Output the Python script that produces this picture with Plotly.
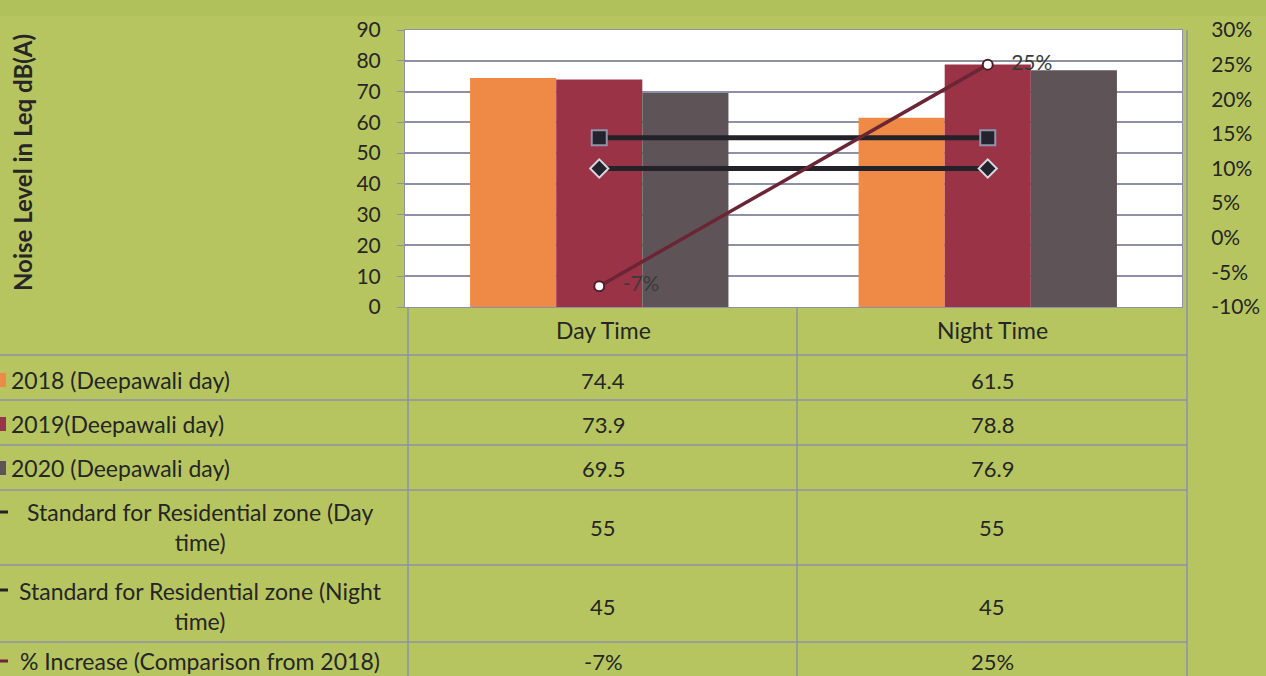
import plotly.graph_objects as go

categories = ["Day Time", "Night Time"]
noise_2018 = [74.4, 61.5]
noise_2019 = [73.9, 78.8]
noise_2020 = [69.5, 76.9]
std_day = [55, 55]
std_night = [45, 45]
pct_increase = [-7, 25]
pct_ticks = [-10, -5, 0, 5, 10, 15, 20, 25, 30]

bar_names = ["2018 (Deepawali day)", "2019(Deepawali day)", "2020 (Deepawali day)"]
line_names = ["Standard for Residential zone (Day<br>time)",
              "Standard for Residential zone (Night<br>time)",
              "% Increase (Comparison from 2018)"]

bar_colors = ["#ee8a45", "#9b3347", "#5e5458"]
line_colors = ["#222228", "#222228", "#6b2535"]

W, H = 1266, 676
L, R, T, B = 405, 1182, 30, 307
FONT = "Lato, Open Sans, sans-serif"
TXT = "#262626"


def px(x):
    return (x - L) / (R - L)


def py(y):
    return (B - y) / (B - T)


def note(text, x, y, size=23, xanchor="center", **kw):
    return dict(text=text, xref="paper", yref="paper", x=px(x), y=py(y),
                xanchor=xanchor, yanchor="middle", showarrow=False,
                font=dict(size=size, color=TXT, family=FONT), **kw)


fig = go.Figure()

for name, vals, col in zip(bar_names, [noise_2018, noise_2019, noise_2020], bar_colors):
    fig.add_trace(go.Bar(x=categories, y=vals, name=name, marker_color=col,
                         marker_line_width=0, showlegend=False))

fig.add_trace(go.Scatter(x=categories, y=std_day, mode="lines+markers",
                         line=dict(color=line_colors[0], width=5),
                         marker=dict(symbol="square", size=15, color="#23232d",
                                     line=dict(color="#8e94aa", width=2)),
                         showlegend=False))
fig.add_trace(go.Scatter(x=categories, y=std_night, mode="lines+markers",
                         line=dict(color=line_colors[1], width=5),
                         marker=dict(symbol="diamond", size=14, color="#23232d",
                                     line=dict(color="#d6d8e0", width=2)),
                         showlegend=False))
fig.add_trace(go.Scatter(x=categories, y=pct_increase, yaxis="y2",
                         mode="lines+markers+text",
                         text=[f"   {v}%" for v in pct_increase],
                         textposition="middle right",
                         textfont=dict(size=21, color="#3a3a3a", family=FONT),
                         line=dict(color=line_colors[2], width=3.5),
                         marker=dict(symbol="circle", size=10, color="white",
                                     line=dict(color="#4a1f28", width=2)),
                         showlegend=False))

shapes = [dict(type="rect", xref="paper", yref="paper",
               x0=px(0), x1=px(W), y0=py(0), y1=py(16),
               fillcolor="#a9bb55", opacity=0.5, line_width=0, layer="below")]

grid_c = "#8c91a6"
# table horizontal lines
for y in [355, 400, 445, 490, 565, 642]:
    shapes.append(dict(type="line", xref="paper", yref="paper",
                       x0=px(0), x1=px(1187), y0=py(y), y1=py(y),
                       line=dict(color=grid_c, width=1.5)))
# table vertical lines
for x in [408, 797]:
    shapes.append(dict(type="line", xref="paper", yref="paper",
                       x0=px(x), x1=px(x), y0=py(B), y1=py(H),
                       line=dict(color=grid_c, width=1.5)))
shapes.append(dict(type="line", xref="paper", yref="paper",
                   x0=px(1187), x1=px(1187), y0=py(T), y1=py(H),
                   line=dict(color=grid_c, width=1.5)))

annotations = [note("<b>Noise Level in Leq dB(A)</b>", 22, 163, size=24, textangle=-90)]

# header row
for cat, cx in zip(categories, [603, 992]):
    annotations.append(note(cat, cx, 330))

row_y = [380, 424, 468, 527, 606, 661]
row_vals = [
    [f"{v}" for v in noise_2018],
    [f"{v}" for v in noise_2019],
    [f"{v}" for v in noise_2020],
    [f"{v}" for v in std_day],
    [f"{v}" for v in std_night],
    [f"{v}%" for v in pct_increase],
]
for ry, vals in zip(row_y, row_vals):
    for cx, v in zip([603, 992], vals):
        annotations.append(note(v, cx, ry, size=22))

# row labels with legend keys
for name, col, ry in zip(bar_names, bar_colors, row_y[:3]):
    annotations.append(note(name, 9, ry, xanchor="left"))
    shapes.append(dict(type="rect", xref="paper", yref="paper",
                       x0=px(0), x1=px(6), y0=py(ry - 7), y1=py(ry + 7),
                       fillcolor=col, line_width=0))
for name, col, ry, ky in zip(line_names, line_colors, row_y[3:], [512, 590, 661]):
    annotations.append(note(name, 200, ry, align="center"))
    shapes.append(dict(type="line", xref="paper", yref="paper",
                       x0=px(0), x1=px(8), y0=py(ky), y1=py(ky),
                       line=dict(color=col, width=3)))

fig.update_layout(
    width=W, height=H,
    margin=dict(l=L, r=W - R, t=T, b=H - B),
    paper_bgcolor="#b6c560",
    plot_bgcolor="white",
    font=dict(family=FONT, color=TXT),
    barmode="group", bargap=0.335, bargroupgap=0,
    xaxis=dict(showticklabels=False, showgrid=False, zeroline=False, automargin=False,
               showline=True, linecolor=grid_c, mirror=True),
    yaxis=dict(range=[0, 90], dtick=10, showgrid=True, gridcolor=grid_c, gridwidth=1.5,
               ticks="outside", ticklen=7, tickcolor=grid_c, ticklabelstandoff=12,
               tickfont=dict(size=21, color=TXT), zeroline=False, automargin=False,
               showline=True, linecolor=grid_c, mirror=True),
    yaxis2=dict(range=[-10, 30], tickvals=pct_ticks,
                ticktext=[f"{v}%" for v in pct_ticks],
                overlaying="y", side="right", showgrid=False, zeroline=False,
                automargin=False, tickfont=dict(size=21, color=TXT),
                ticks="outside", ticklen=24, tickcolor="rgba(0,0,0,0)"),
    shapes=shapes,
    annotations=annotations,
)

fig.write_html("out.html", config={"displayModeBar": False},
               post_script="document.body.style.margin='0';")
